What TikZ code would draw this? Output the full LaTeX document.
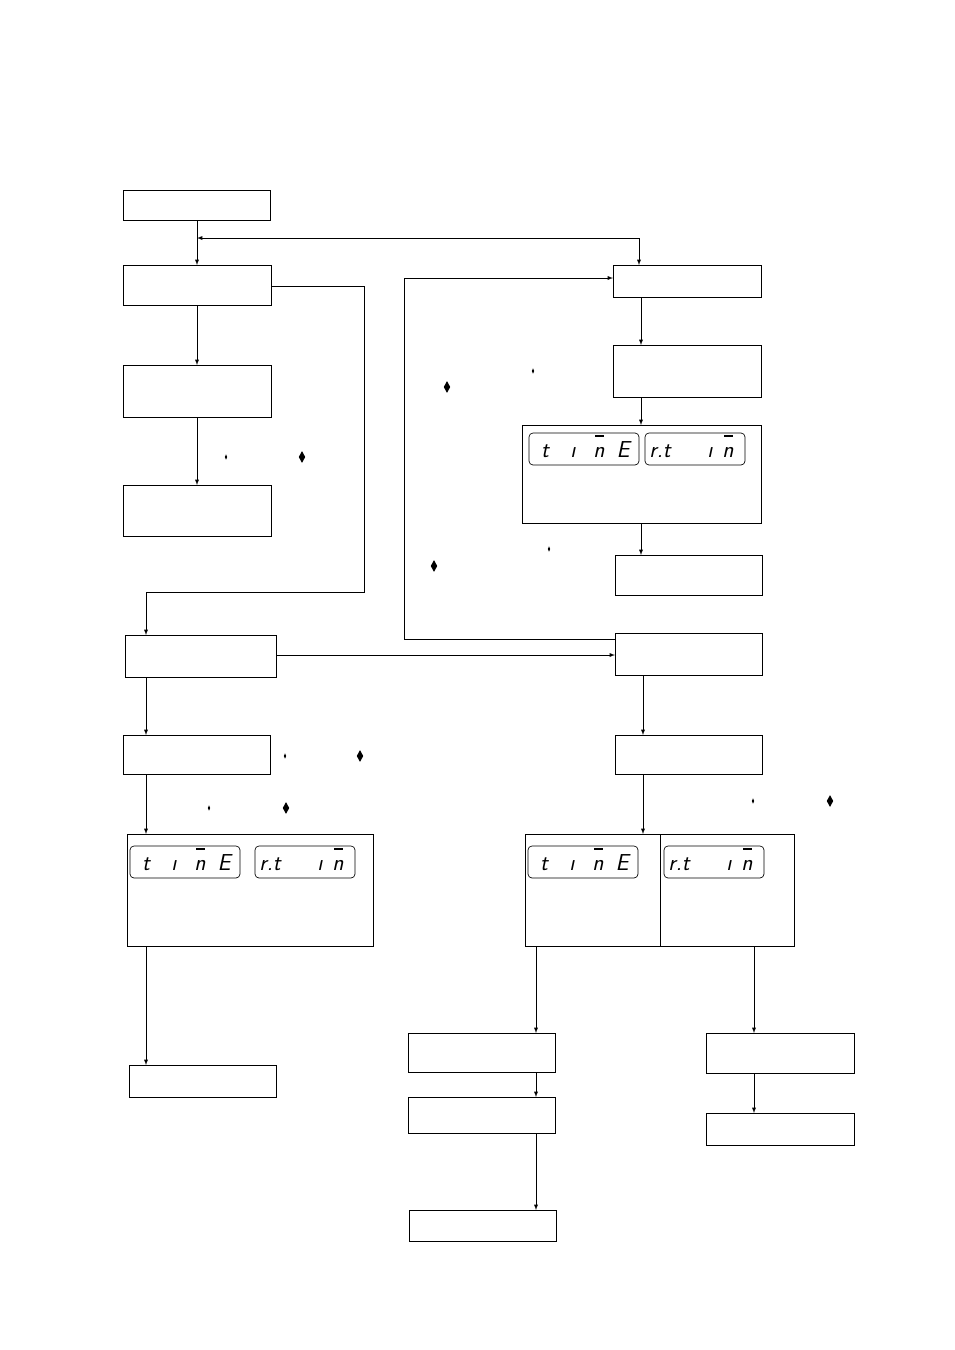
\documentclass[tikz,border=0pt]{standalone}
\usepackage{tikz}
\usetikzlibrary{shapes.geometric,calc}
\tikzset{
  >=latex,
  stepbox/.style={draw,line width=0.6pt},
  disp/.style={draw,rounded corners=3pt,line width=0.5pt},
  seg/.style={font=\sffamily\itshape\LARGE,inner sep=0pt,anchor=base},
  bigdia/.style={diamond,fill=black,inner sep=0pt,minimum width=5pt,minimum height=9pt},
  smalldia/.style={diamond,fill=black,inner sep=0pt,minimum width=2pt,minimum height=4pt},
}
% glyph with a bar over it
\newcommand{\segbar}[3]{%
  \node[seg] at (#1,#2) {#3};
  \draw[line width=0.9pt] ($(#1,#2)+(-4,-21)$) -- ++(9,0);}
\newcommand{\timedisp}[2]{%
  \draw[disp] (#1,#2) rectangle ++(110,32);
  \node[seg] at ($(#1,#2)+(16,24)$) {t};
  \node[seg] at ($(#1,#2)+(44,24)$) {\i};
  \segbar{$(#1,#2)+(70,24)$}{}{n}
  \node[seg] at ($(#1,#2)+(94,24)$) {E};}
\newcommand{\rtdisp}[3]{%
  \draw[disp] (#1,#2) rectangle ++(#3,32);
  \node[seg] at ($(#1,#2)+(15,24)$) {r.t};
  \node[seg] at ($(#1,#2)+(#3,0)+(-35,24)$) {\i};
  \segbar{$(#1,#2)+(#3,0)+(-17,24)$}{}{n}}
\begin{document}
\begin{tikzpicture}[x=0.75pt,y=-0.75pt]
\useasboundingbox (0,0) rectangle (954,1350);

% left column
\draw[stepbox] (123,190) rectangle (270,220);
\draw[stepbox] (123,265) rectangle (271,305);
\draw[stepbox] (123,365) rectangle (271,417);
\draw[stepbox] (123,485) rectangle (271,536);
\draw[stepbox] (125,635) rectangle (276,677);
\draw[stepbox] (123,735) rectangle (270,774);
\draw[stepbox] (127,834) rectangle (373,946);
\draw[stepbox] (129,1065) rectangle (276,1097);

% right column
\draw[stepbox] (613,265) rectangle (761,297);
\draw[stepbox] (613,345) rectangle (761,397);
\draw[stepbox] (522,425) rectangle (761,523);
\draw[stepbox] (615,555) rectangle (762,595);
\draw[stepbox] (615,633) rectangle (762,675);
\draw[stepbox] (615,735) rectangle (762,774);
\draw[stepbox] (525,834) rectangle (660,946);
\draw[stepbox] (660,834) rectangle (794,946);
\draw[stepbox] (408,1033) rectangle (555,1072);
\draw[stepbox] (408,1097) rectangle (555,1133);
\draw[stepbox] (409,1210) rectangle (556,1241);
\draw[stepbox] (706,1033) rectangle (854,1073);
\draw[stepbox] (706,1113) rectangle (854,1145);

% displays
\timedisp{529}{433}
\rtdisp{645}{433}{100}
\timedisp{130}{846}
\rtdisp{255}{846}{100}
\timedisp{528}{846}
\rtdisp{664}{846}{100}

% connectors
\draw[->] (197,220) -- (197,265);
\draw[<->] (197,238) -- (639,238) -- (639,265);
\draw[->] (197,305) -- (197,365);
\draw[->] (197,417) -- (197,485);
\draw[->] (271,286) -- (364,286) -- (364,592) -- (146,592) -- (146,635);
\draw[->] (276,655) -- (615,655);
\draw[->] (615,639) -- (404,639) -- (404,278) -- (613,278);
\draw[->] (641,297) -- (641,345);
\draw[->] (641,397) -- (641,425);
\draw[->] (641,523) -- (641,555);
\draw[->] (146,677) -- (146,735);
\draw[->] (146,774) -- (146,834);
\draw[->] (146,946) -- (146,1065);
\draw[->] (643,675) -- (643,735);
\draw[->] (643,774) -- (643,834);
\draw[->] (536,946) -- (536,1033);
\draw[->] (536,1072) -- (536,1097);
\draw[->] (536,1133) -- (536,1210);
\draw[->] (754,946) -- (754,1033);
\draw[->] (754,1073) -- (754,1113);

% key marks
\foreach \x/\y in {226/457,533/371,549/549,285/756,209/808,753/801}
  \node[smalldia] at (\x,\y) {};
\foreach \x/\y in {302/457,447/387,434/566,360/756,286/808,830/801}
  \node[bigdia] at (\x,\y) {};
\end{tikzpicture}
\end{document}
